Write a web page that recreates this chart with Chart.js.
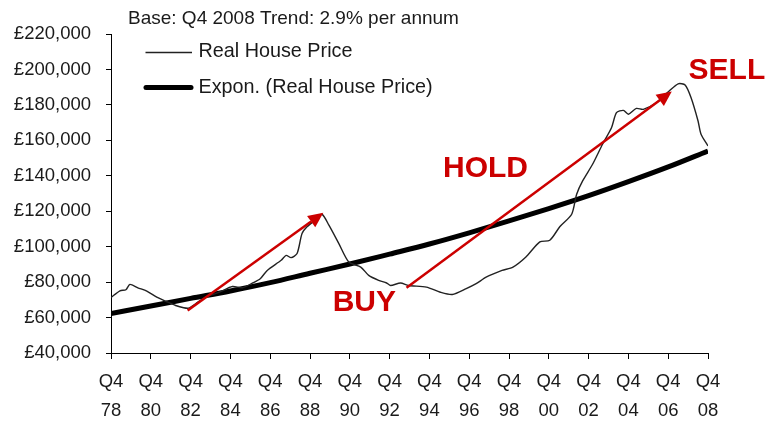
<!DOCTYPE html>
<html>
<head>
<meta charset="utf-8">
<script src="https://cdn.jsdelivr.net/npm/chart.js@4.4.1/dist/chart.umd.min.js"></script>
<style>
html,body{margin:0;padding:0;background:#fff;}
#wrap{width:769px;height:423px;position:relative;}
</style>
</head>
<body>
<div id="wrap"><canvas id="c"></canvas></div>
<script>
// ---- data ----
const titleText = "Base: Q4 2008 Trend: 2.9% per annum";
const seriesNames = ["Real House Price", "Expon. (Real House Price)"];

const tickYears = [1978.75,1980.75,1982.75,1984.75,1986.75,1988.75,1990.75,1992.75,1994.75,1996.75,1998.75,2000.75,2002.75,2004.75,2006.75,2008.75];
const tickLabels = ["78","80","82","84","86","88","90","92","94","96","98","00","02","04","06","08"];

const realYears = [1978.75,1979.2,1979.5,1979.7,1980.1,1980.55,1981.05,1981.5,1982.0,1982.4,1982.65,1983.0,1983.5,1984.2,1984.85,1985.35,1985.85,1986.25,1986.6,1987.3,1987.55,1987.8,1988.1,1988.35,1988.6,1989.0,1989.35,1989.7,1990.2,1990.7,1991.3,1991.7,1992.2,1992.6,1992.8,1993.3,1993.7,1994.6,1995.3,1995.9,1996.6,1997.1,1997.6,1998.4,1998.95,1999.6,2000.3,2000.8,2001.3,2001.9,2002.15,2002.45,2002.95,2003.45,2003.9,2004.15,2004.5,2004.75,2005.15,2005.5,2006.15,2006.8,2007.25,2007.6,2007.9,2008.25,2008.4,2008.75];
const realPrice = [71300,75100,75700,78700,76800,74900,71500,69200,66800,65500,65300,67800,71500,74300,77500,76800,79400,81900,86600,92300,95100,93800,96100,107400,111200,114900,118300,112100,101700,91300,88500,83800,81000,79500,78100,79500,78100,77200,74300,73000,76300,79100,82800,86600,88500,94200,102700,103600,111200,118300,129600,137100,146500,157800,167100,175600,176900,174700,178000,177500,181200,187800,191900,191200,184000,170900,163400,156800];

const trendYears = [1978.75,1980.75,1982.75,1984.75,1986.75,1988.75,1990.75,1992.75,1994.75,1996.75,1998.75,2000.75,2002.75,2004.75,2006.75,2008.75];
const trendPrice = [62300,66500,70800,75000,79700,85000,90200,95800,101500,107800,114500,121500,128800,136700,145000,154000];

const yMin = 40000, yMax = 220000, yStep = 20000;

// annotations (data coordinates)
const arrows = [
  {from:[1982.6, 64000], to:[1989.42, 119100]},
  {from:[1993.6, 76800], to:[2006.93, 187600]}
];
const notes = [
  {text:"BUY",  at:[1991.48, 68500]},
  {text:"HOLD", at:[1997.57, 144000]},
  {text:"SELL", at:[2009.7, 199000]}
];

// ---- chart ----
const FONT = "'Liberation Sans', Arial, sans-serif";
const TXT = "#1a1a1a";
const RED = "#cc0000";

const overlay = {
  id:'overlay',
  afterDatasetsDraw(chart){
    const ctx = chart.ctx, xs = chart.scales.x, ys = chart.scales.y;
    ctx.save();
    ctx.strokeStyle = RED; ctx.fillStyle = RED; ctx.lineWidth = 2.5; ctx.lineCap='butt';
    arrows.forEach(a=>{
      const x1 = xs.getPixelForValue(a.from[0]), y1 = ys.getPixelForValue(a.from[1]);
      const x2 = xs.getPixelForValue(a.to[0]),   y2 = ys.getPixelForValue(a.to[1]);
      const ang = Math.atan2(y2-y1, x2-x1);
      const hl = 15, hw = 7;
      const bx = x2 - hl*Math.cos(ang), by = y2 - hl*Math.sin(ang);
      ctx.beginPath(); ctx.moveTo(x1,y1); ctx.lineTo(bx,by); ctx.stroke();
      ctx.beginPath();
      ctx.moveTo(x2,y2);
      ctx.lineTo(bx + hw*Math.sin(ang), by - hw*Math.cos(ang));
      ctx.lineTo(bx - hw*Math.sin(ang), by + hw*Math.cos(ang));
      ctx.closePath(); ctx.fill();
    });
    ctx.font = "bold 30px " + FONT; ctx.textAlign='center'; ctx.textBaseline='middle';
    notes.forEach(n=>{
      ctx.fillText(n.text, xs.getPixelForValue(n.at[0]), ys.getPixelForValue(n.at[1]));
    });
    ctx.restore();
  },
  afterDraw(chart){
    const ctx = chart.ctx;
    ctx.save();
    ctx.fillStyle = TXT;
    ctx.textAlign='left'; ctx.textBaseline='middle';
    ctx.font = "19px " + FONT;
    ctx.fillText(titleText, 128, 18.5);
    ctx.font = "19.8px " + FONT;
    ctx.strokeStyle = "#222"; ctx.lineWidth = 1.3;
    ctx.beginPath(); ctx.moveTo(145.5, 52.5); ctx.lineTo(192, 52.5); ctx.stroke();
    ctx.fillText(seriesNames[0], 198.5, 52);
    ctx.strokeStyle = "#000"; ctx.lineWidth = 5; ctx.lineCap='round';
    ctx.beginPath(); ctx.moveTo(146, 87.5); ctx.lineTo(191, 87.5); ctx.stroke();
    ctx.fillText(seriesNames[1], 198.5, 87.5);
    ctx.restore();
  }
};

const toXY = (xs, ys) => xs.map((x,i)=>({x, y: ys[i]}));

new Chart(document.getElementById('c'), {
  type:'line',
  data:{
    datasets:[
      {label:seriesNames[0], data:toXY(realYears, realPrice), borderColor:'#222', borderWidth:1.4, pointRadius:0, tension:0.25, fill:false, order:1},
      {label:seriesNames[1], data:toXY(trendYears, trendPrice), borderColor:'#000', borderWidth:5, pointRadius:0, cubicInterpolationMode:'monotone', fill:false, order:2}
    ]
  },
  options:{
    responsive:true, maintainAspectRatio:false, animation:false,
    layout:{padding:{top:34, right:61, bottom:0, left:0}},
    plugins:{legend:{display:false}, title:{display:false}, tooltip:{enabled:false}},
    scales:{
      x:{
        type:'linear', min:tickYears[0], max:tickYears[tickYears.length-1],
        afterBuildTicks(scale){ scale.ticks = tickYears.map(v=>({value:v})); },
        afterFit(scale){ scale.height = 70; },
        grid:{drawOnChartArea:false, drawTicks:true, tickLength:6, color:'#000', lineWidth:1},
        border:{display:true, color:'#000', width:1},
        ticks:{
          autoSkip:false, maxRotation:0, padding:9, color:TXT,
          font:{family:FONT, size:18.5, lineHeight:1.55},
          callback(v){ const i = tickYears.indexOf(v); return i<0 ? '' : ["Q4", tickLabels[i]]; }
        }
      },
      y:{
        min:yMin, max:yMax,
        afterFit(scale){ scale.width = 111; },
        grid:{drawOnChartArea:false, drawTicks:true, tickLength:5, color:'#000', lineWidth:1},
        border:{display:true, color:'#000', width:1},
        ticks:{
          stepSize:yStep, padding:15, color:TXT,
          font:{family:FONT, size:18.5},
          callback(v){ return '£' + v.toLocaleString('en-GB'); }
        }
      }
    }
  },
  plugins:[overlay]
});
</script>
</body>
</html>
